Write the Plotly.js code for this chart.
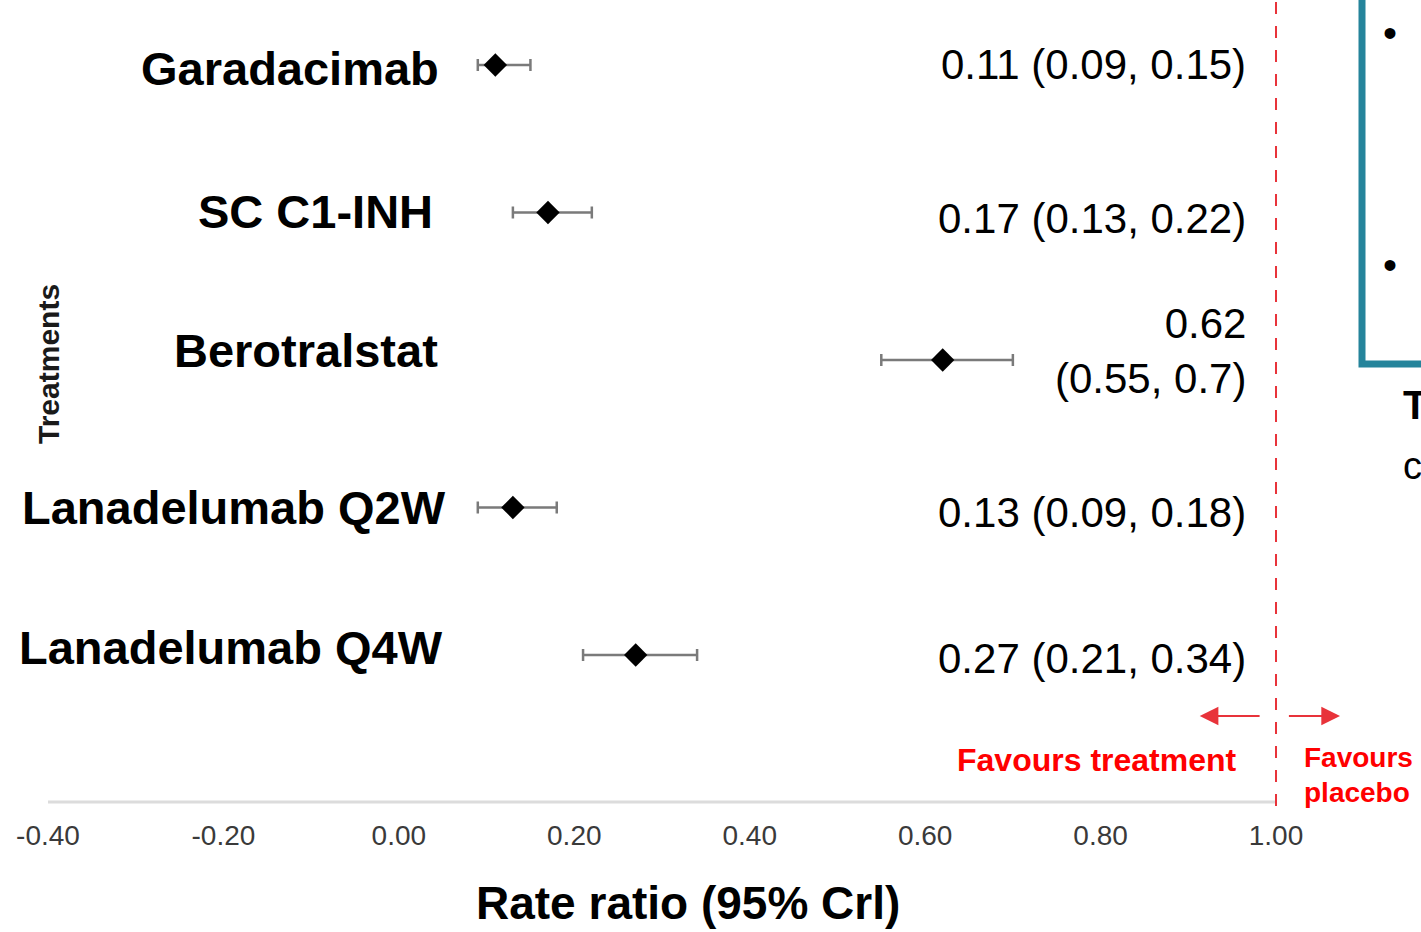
<!DOCTYPE html>
<html>
<head>
<meta charset="utf-8">
<script src="https://cdn.plot.ly/plotly-3.0.1.min.js"></script>
<style>html,body{margin:0;padding:0;background:#fff;}#chart{width:1421px;height:932px;}</style>
</head>
<body>
<div id="chart"></div>
<script>
// ---- data ----
var treatments = ['Garadacimab', 'SC C1-INH', 'Berotralstat', 'Lanadelumab Q2W', 'Lanadelumab Q4W'];
var rateRatio  = [0.11, 0.17, 0.62, 0.13, 0.27];
var lowerCrI   = [0.09, 0.13, 0.55, 0.09, 0.21];
var upperCrI   = [0.15, 0.22, 0.70, 0.18, 0.34];
var valueLabels = ['0.11 (0.09, 0.15)', '0.17 (0.13, 0.22)', '0.62<br>(0.55, 0.7)', '0.13 (0.09, 0.18)', '0.27 (0.21, 0.34)'];
var xTickVals = [-0.4, -0.2, 0, 0.2, 0.4, 0.6, 0.8, 1.0];
var xTickText = ['-0.40', '-0.20', '0.00', '0.20', '0.40', '0.60', '0.80', '1.00'];
var nullValue = 1.0;

// ---- styling constants ----
var W = 1421, H = 932, plotBottom = 802;
var font = 'Liberation Sans, Arial, Helvetica, sans-serif';
var nameXShift = [-3, -9, -4, 4, 1];
var nameYShift = [-3, 1, 10, 0, 8];
var valYShift = [1, -6, 9, -5, -3];
var red = '#e8333a';

var n = treatments.length;
var yPos = treatments.map(function (_, i) { return n - 1 - i; });

function px2paperY(py) { return (plotBottom - py) / plotBottom; }

var trace = {
  type: 'scatter',
  mode: 'markers',
  x: rateRatio,
  y: yPos,
  marker: { symbol: 'diamond', size: 18, color: '#000' },
  error_x: {
    type: 'data', symmetric: false,
    array: rateRatio.map(function (v, i) { return upperCrI[i] - v; }),
    arrayminus: rateRatio.map(function (v, i) { return v - lowerCrI[i]; }),
    color: '#7a7a7a', thickness: 2.5, width: 6
  },
  hoverinfo: 'skip',
  cliponaxis: false
};

var annotations = [];
treatments.forEach(function (t, i) {
  annotations.push({
    xref: 'paper', yref: 'y', x: 444 / W, y: yPos[i], xanchor: 'right', yanchor: 'middle',
    xshift: nameXShift[i], yshift: nameYShift[i],
    text: '<b>' + t + '</b>', showarrow: false,
    font: { family: font, size: 47, color: '#000' }
  });
  annotations.push({
    xref: 'paper', yref: 'y', x: 1248 / W, y: yPos[i], xanchor: 'right', yanchor: 'middle',
    yshift: valYShift[i], align: 'right',
    text: valueLabels[i], showarrow: false,
    font: { family: font, size: 42, color: '#000' }
  });
});

// axis titles
annotations.push({
  xref: 'paper', yref: 'paper', x: 688 / W, y: px2paperY(931), xanchor: 'center', yanchor: 'bottom',
  text: '<b>Rate ratio (95% Crl)</b>', showarrow: false,
  font: { family: font, size: 46, color: '#000' }
});
annotations.push({
  xref: 'paper', yref: 'paper', x: 48 / W, y: px2paperY(364), xanchor: 'center', yanchor: 'middle',
  text: '<b>Treatments</b>', textangle: -90, showarrow: false,
  font: { family: font, size: 30, color: '#1a1a1a' }
});

// favours arrows + labels
var arrowY = px2paperY(716);
annotations.push({
  xref: 'x', yref: 'paper', x: 0.913, y: arrowY, axref: 'x', ayref: 'pixel', ax: 0.983, ay: 0,
  text: '', showarrow: true, arrowhead: 2, arrowsize: 1.7, arrowwidth: 2.2, arrowcolor: red
});
annotations.push({
  xref: 'x', yref: 'paper', x: 1.073, y: arrowY, axref: 'x', ayref: 'pixel', ax: 1.013, ay: 0,
  text: '', showarrow: true, arrowhead: 2, arrowsize: 1.7, arrowwidth: 2.2, arrowcolor: red
});
annotations.push({
  xref: 'paper', yref: 'paper', x: 1239 / W, y: px2paperY(760), xanchor: 'right', yanchor: 'middle',
  text: '<b>Favours treatment</b>', showarrow: false,
  font: { family: font, size: 32, color: '#ff0000' }
});
annotations.push({
  xref: 'paper', yref: 'paper', x: 1302 / W, y: px2paperY(757), xanchor: 'left', yanchor: 'middle',
  text: '<b>Favours</b>', showarrow: false,
  font: { family: font, size: 28, color: '#ff0000' }
});
annotations.push({
  xref: 'paper', yref: 'paper', x: 1302 / W, y: px2paperY(792), xanchor: 'left', yanchor: 'middle',
  text: '<b>placebo</b>', showarrow: false,
  font: { family: font, size: 28, color: '#ff0000' }
});

// cropped side panel text
annotations.push({ xref: 'paper', yref: 'paper', x: 1390 / W, y: px2paperY(33), xanchor: 'center', yanchor: 'middle',
  text: '•', showarrow: false, font: { family: font, size: 40, color: '#000' } });
annotations.push({ xref: 'paper', yref: 'paper', x: 1390 / W, y: px2paperY(265), xanchor: 'center', yanchor: 'middle',
  text: '•', showarrow: false, font: { family: font, size: 40, color: '#000' } });
annotations.push({ xref: 'paper', yref: 'paper', x: 1401 / W, y: px2paperY(405), xanchor: 'left', yanchor: 'middle',
  text: '<b>T</b>', showarrow: false, font: { family: font, size: 40, color: '#000' } });
annotations.push({ xref: 'paper', yref: 'paper', x: 1401 / W, y: px2paperY(466), xanchor: 'left', yanchor: 'middle',
  text: 'c', showarrow: false, font: { family: font, size: 38, color: '#000' } });

var shapes = [
  // x axis baseline
  { type: 'line', xref: 'x', yref: 'paper', x0: -0.4, x1: 1.0, y0: 0, y1: 0,
    line: { color: '#dcdcdc', width: 3 } },
  // null line
  { type: 'line', xref: 'x', yref: 'paper', x0: nullValue, x1: nullValue, y0: -0.005, y1: 1,
    line: { color: red, width: 2, dash: '12px,12px' } },
  // teal panel border
  { type: 'rect', xref: 'paper', yref: 'paper', x0: 1362 / W, x1: 1.2, y0: px2paperY(364), y1: 1.2,
    line: { color: '#25849b', width: 7 }, fillcolor: 'rgba(0,0,0,0)' }
];

var xPerPx = 0.2 / 175.43;
var layout = {
  width: W, height: H,
  margin: { l: 0, r: 0, t: 0, b: H - plotBottom, pad: 0 },
  paper_bgcolor: '#fff', plot_bgcolor: '#fff',
  showlegend: false,
  xaxis: {
    range: [-0.4 - 48 * xPerPx, -0.4 + (W - 48) * xPerPx],
    tickmode: 'array', tickvals: xTickVals, ticktext: xTickText,
    ticks: '', showgrid: false, zeroline: false, showline: false,
    ticklabelstandoff: 14,
    tickfont: { family: font, size: 28, color: '#3a3a3a' },
    fixedrange: true
  },
  yaxis: {
    range: [-(plotBottom - 655) / 147.5, 4 + 65 / 147.5],
    showticklabels: false, ticks: '', showgrid: false, zeroline: false, showline: false,
    fixedrange: true
  },
  shapes: shapes,
  annotations: annotations
};

Plotly.newPlot('chart', [trace], layout, { displayModeBar: false, staticPlot: true });
</script>
</body>
</html>
